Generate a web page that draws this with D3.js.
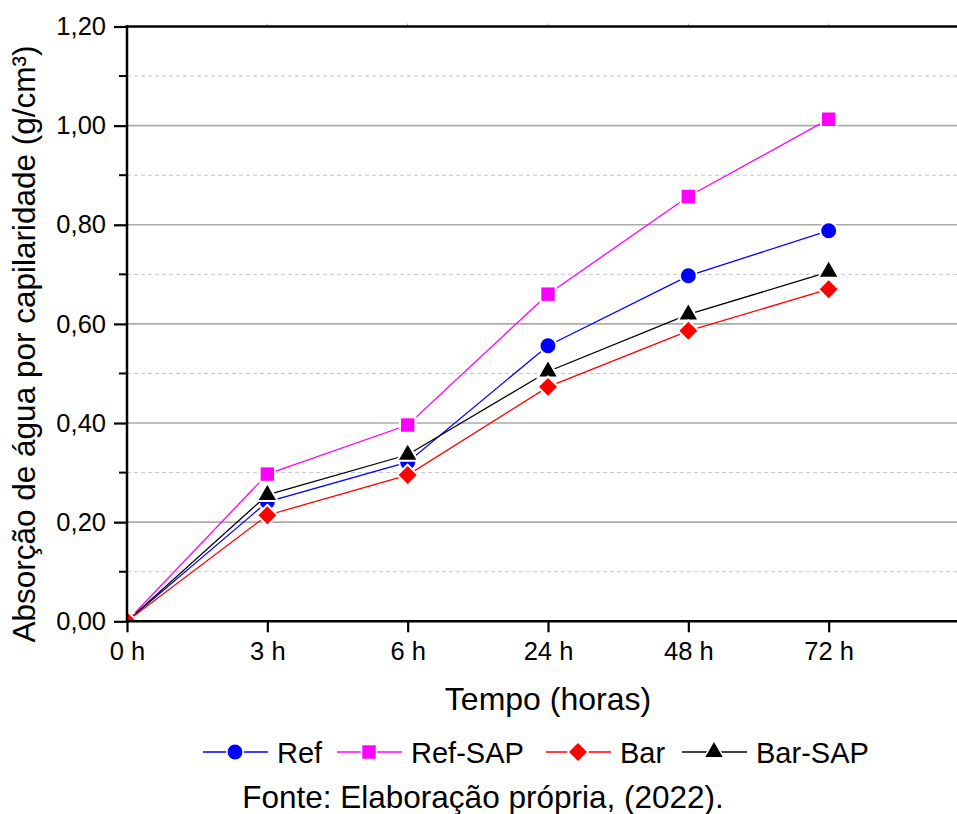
<!DOCTYPE html>
<html>
<head>
<meta charset="utf-8">
<script src="https://cdn.jsdelivr.net/npm/d3@7/dist/d3.min.js"></script>
<style>
  html, body { margin: 0; padding: 0; background: #fff; }
  svg { display: block; font-family: "Liberation Sans", Arial, sans-serif; }
</style>
</head>
<body>
<svg id="chart" width="957" height="814"></svg>
<script>
// Tempo de ensaio (categorias do eixo X)
const categories = ["0 h", "3 h", "6 h", "24 h", "48 h", "72 h"];

// Absorção de água por capilaridade (g/cm³) por traço
const ref    = [0.000, 0.241, 0.321, 0.556, 0.697, 0.788];
const refSap = [0.000, 0.297, 0.396, 0.660, 0.857, 1.013];
const bar    = [0.000, 0.214, 0.295, 0.473, 0.586, 0.670];
const barSap = [0.000, 0.255, 0.336, 0.504, 0.619, 0.705];

const seriesNames = ["Ref", "Ref-SAP", "Bar", "Bar-SAP"];
const yTicks = [0, 0.2, 0.4, 0.6, 0.8, 1.0, 1.2];
const yMinor = [0.1, 0.3, 0.5, 0.7, 0.9, 1.1];

const series = [
  { name: seriesNames[0], values: ref,    color: "#0000ff", symbol: "circle" },
  { name: seriesNames[1], values: refSap, color: "#ff00ff", symbol: "square" },
  { name: seriesNames[2], values: bar,    color: "#ff0000", symbol: "diamond" },
  { name: seriesNames[3], values: barSap, color: "#000000", symbol: "triangle" }
];
// Bar is painted last so it sits on top at shared points
const drawOrder = [0, 1, 3, 2];

const svg = d3.select("#chart");
const pLeft = 127, pTop = 26.5, pBottom = 621.3, pRight = 969;

const x = d3.scaleLinear().domain([0, categories.length]).range([pLeft, pRight]);
const y = d3.scaleLinear().domain([0, 1.2]).range([pBottom, pTop]);

function symbolPath(kind, k = 1) {
  switch (kind) {
    case "circle":   return d3.symbol().type(d3.symbolCircle).size(175 * k)();
    case "square":   return d3.symbol().type(d3.symbolSquare).size(180 * k)();
    case "diamond":  return d3.symbol().type(d3.symbolDiamond2).size(205 * k)();
    case "triangle": return d3.symbol().type(d3.symbolTriangle2).size(215 * k)();
  }
}

// grid
const grid = svg.append("g");
grid.selectAll("line.minor").data(yMinor).join("line")
  .attr("x1", pLeft).attr("x2", pRight)
  .attr("y1", d => y(d)).attr("y2", d => y(d))
  .attr("stroke", "#c4c4c4").attr("stroke-width", 1)
  .attr("stroke-dasharray", "4,3");
grid.selectAll("line.major").data(yTicks.filter(d => d > 0 && d < 1.2)).join("line")
  .attr("x1", pLeft).attr("x2", pRight)
  .attr("y1", d => y(d)).attr("y2", d => y(d))
  .attr("stroke", "#ababab").attr("stroke-width", 1.6);

// small ticks on the top frame
svg.append("g").selectAll("line").data(d3.range(1, categories.length)).join("line")
  .attr("x1", d => x(d)).attr("x2", d => x(d))
  .attr("y1", pTop - 3).attr("y2", pTop)
  .attr("stroke", "#aaa").attr("stroke-width", 1);

// clip to plot area
svg.append("clipPath").attr("id", "plotclip")
  .append("rect").attr("x", pLeft).attr("y", pTop)
  .attr("width", pRight - pLeft).attr("height", pBottom - pTop);

const plot = svg.append("g").attr("clip-path", "url(#plotclip)");
const line = d3.line().x((d, i) => x(i)).y(d => y(d));

drawOrder.forEach(k => {
  const s = series[k];
  const g = plot.append("g");
  g.append("path").datum(s.values)
    .attr("d", line).attr("fill", "none")
    .attr("stroke", s.color).attr("stroke-width", 1.3);
  g.selectAll("path.m").data(s.values).join("path")
    .attr("class", "m")
    .attr("d", symbolPath(s.symbol))
    .attr("transform", (d, i) => `translate(${x(i)},${y(d)})`)
    .attr("fill", s.color)
    .attr("stroke", "#fff").attr("stroke-width", 4)
    .style("paint-order", "stroke");
});

// axes
const yAxis = d3.axisLeft(y).tickValues(yTicks)
  .tickFormat(d => d3.format(".2f")(d).replace(".", ","))
  .tickSize(13).tickPadding(8);
const yg = svg.append("g").attr("transform", `translate(${pLeft},0)`).call(yAxis);
yg.select(".domain").remove();
yg.selectAll(".tick line").attr("stroke", "#000").attr("stroke-width", 2.2);
yg.selectAll(".tick text").attr("font-size", 25.5).attr("fill", "#000")
  .attr("font-family", "Liberation Sans, Arial, sans-serif");

svg.append("g").selectAll("line").data(yMinor).join("line")
  .attr("x1", pLeft - 8).attr("x2", pLeft)
  .attr("y1", d => y(d)).attr("y2", d => y(d))
  .attr("stroke", "#000").attr("stroke-width", 2);

const xAxis = d3.axisBottom(x).tickValues(d3.range(categories.length))
  .tickFormat(i => categories[i]).tickSize(11).tickPadding(10);
const xg = svg.append("g").attr("transform", `translate(0,${pBottom})`).call(xAxis);
xg.select(".domain").remove();
xg.selectAll(".tick line").attr("stroke", "#000").attr("stroke-width", 2.2);
xg.selectAll(".tick text").attr("font-size", 25.5).attr("fill", "#000")
  .attr("font-family", "Liberation Sans, Arial, sans-serif");

// frame lines
svg.append("line").attr("x1", pLeft).attr("x2", pLeft)
  .attr("y1", pTop - 1.2).attr("y2", pBottom + 1.2)
  .attr("stroke", "#000").attr("stroke-width", 2.5);
svg.append("line").attr("x1", pLeft - 1.2).attr("x2", pRight)
  .attr("y1", pBottom).attr("y2", pBottom)
  .attr("stroke", "#000").attr("stroke-width", 2.5);
svg.append("line").attr("x1", pLeft - 1.2).attr("x2", pRight)
  .attr("y1", pTop).attr("y2", pTop)
  .attr("stroke", "#000").attr("stroke-width", 2.5);

// titles
svg.append("text")
  .attr("transform", "translate(35,344) rotate(-90)")
  .attr("text-anchor", "middle")
  .attr("font-size", 31.5).attr("fill", "#000")
  .text("Absorção de água por capilaridade (g/cm³)");

svg.append("text")
  .attr("x", (pLeft + pRight) / 2).attr("y", 710)
  .attr("text-anchor", "middle")
  .attr("font-size", 32).attr("fill", "#000")
  .text("Tempo (horas)");

// legend
const legendX = [203, 337, 546, 682];
const legendY = 752;
series.forEach((s, k) => {
  const g = svg.append("g").attr("transform", `translate(${legendX[k]},${legendY})`);
  g.append("line").attr("x1", 0).attr("x2", 65).attr("y1", 0).attr("y2", 0)
    .attr("stroke", s.color).attr("stroke-width", 1.3);
  g.append("path").attr("d", symbolPath(s.symbol, 1))
    .attr("transform", "translate(32,0)")
    .attr("fill", s.color).attr("stroke", "#fff").attr("stroke-width", 3)
    .style("paint-order", "stroke");
  g.append("text").attr("x", 74).attr("y", 11)
    .attr("font-size", 29).attr("fill", "#000")
    .text(s.name);
});

svg.append("text")
  .attr("x", 483).attr("y", 808)
  .attr("text-anchor", "middle")
  .attr("font-size", 31.5).attr("fill", "#000")
  .text("Fonte: Elaboração própria, (2022).");
</script>
</body>
</html>
